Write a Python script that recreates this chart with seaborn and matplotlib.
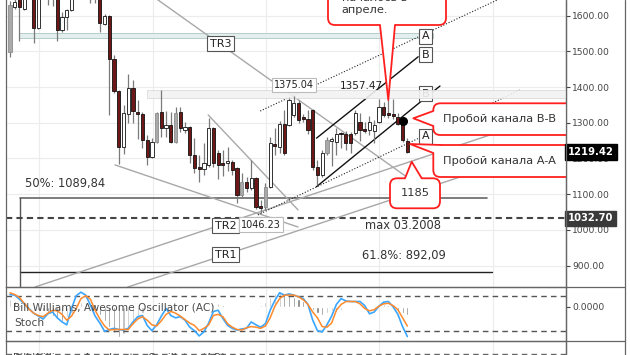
import numpy as np
import pandas as pd
import matplotlib
matplotlib.use("Agg")
import matplotlib.pyplot as plt
import matplotlib.transforms as mtransforms
from matplotlib.patches import FancyBboxPatch, Polygon, Rectangle
from matplotlib.lines import Line2D
import seaborn as sns

# ---------------- data ----------------
opens = [1498, 1625, 1660, 1620, 1680, 1680, 1565, 1700, 1690, 1670,
         1680, 1560, 1597, 1616, 1660, 1700, 1690, 1690, 1670, 1680,
         1577, 1599, 1478, 1390, 1233, 1325, 1397, 1331, 1326, 1252,
         1205, 1247, 1331, 1285, 1294, 1247, 1329, 1280, 1289, 1210,
         1177, 1170, 1182, 1285, 1215, 1187, 1187, 1191, 1173, 1098,
         1135, 1117, 1145, 1067, 1065, 1121, 1240, 1233, 1298, 1294,
         1322, 1355, 1315, 1312, 1335, 1177, 1154, 1215, 1250, 1247,
         1272, 1270, 1270, 1271, 1303, 1282, 1280, 1276, 1303, 1345,
         1324, 1325, 1317, 1312, 1250]
highs = [1642, 1650, 1670, 1670, 1720, 1690, 1685, 1720, 1710, 1700,
         1690, 1610, 1620, 1670, 1720, 1720, 1710, 1700, 1690, 1700,
         1606, 1603, 1490, 1392, 1350, 1437, 1420, 1363, 1330, 1266,
         1257, 1331, 1392, 1334, 1331, 1343, 1345, 1303, 1292, 1257,
         1210, 1243, 1313, 1288, 1224, 1224, 1231, 1196, 1177, 1160,
         1149, 1196, 1147, 1083, 1130, 1261, 1285, 1306, 1335, 1370,
         1375.04, 1363, 1325, 1335, 1340, 1196, 1224, 1261, 1261, 1285,
         1275, 1277, 1275, 1335, 1327, 1303, 1318, 1308, 1368, 1357.47,
         1368, 1368, 1327, 1320, 1257]
lows = [1484, 1620, 1530, 1615, 1660, 1524, 1562, 1660, 1630, 1628,
        1530, 1555, 1560, 1614, 1650, 1660, 1660, 1636, 1636, 1555,
        1574, 1322, 1383, 1185, 1213, 1299, 1299, 1255, 1229, 1182,
        1200, 1242, 1261, 1261, 1242, 1242, 1275, 1271, 1187, 1159,
        1135, 1154, 1177, 1177, 1143, 1152, 1166, 1154, 1075, 1093,
        1107, 1111, 1058, 1046.23, 1056, 1117, 1210, 1215, 1210, 1290,
        1316, 1300, 1302, 1270, 1168, 1125, 1148, 1210, 1180, 1210,
        1230, 1225, 1215, 1265, 1250, 1271, 1265, 1243, 1300, 1316,
        1313, 1312, 1293, 1246, 1215]
closes = [1630, 1639, 1623, 1660, 1700, 1565, 1680, 1680, 1670, 1690,
          1560, 1597, 1616, 1660, 1700, 1690, 1680, 1670, 1680, 1579,
          1599, 1478, 1390, 1233, 1327, 1397, 1332, 1326, 1252, 1205,
          1247, 1327, 1285, 1294, 1247, 1327, 1285, 1289, 1210, 1173,
          1170, 1187, 1285, 1187, 1182, 1182, 1194, 1168, 1098, 1135,
          1117, 1145, 1065, 1061, 1121, 1243, 1235, 1298, 1215, 1364,
          1355, 1308, 1310, 1280, 1177, 1154, 1215, 1252, 1255, 1270,
          1268, 1243, 1243, 1327, 1280, 1278, 1303, 1294, 1345, 1322,
          1323, 1318, 1298, 1252, 1219.42]
gray_candles = [0, 31, 35, 49, 54, 67]

stoch_k = [82, 81, 74, 66, 58, 50, 45, 40, 49, 52,
           42, 35, 30, 58, 80, 86, 81, 64, 45, 33,
           19, 22, 24, 22, 21, 24, 35, 44, 46, 29,
           20, 30, 45, 58, 46, 42, 44, 38, 26, 20,
           11, 18, 33, 53, 55, 41, 29, 24, 21, 23,
           24, 35, 30, 26, 32, 55, 72, 85, 81, 83,
           81, 78, 75, 65, 38, 20, 18, 30, 45, 65,
           75, 71, 70, 70, 70, 63, 49, 52, 62, 69,
           70, 61, 48, 27, 10]
stoch_d = [85, 82, 77, 67, 57, 50, 46, 44, 50, 55,
           54, 48, 38, 45, 58, 75, 80, 74, 55, 40,
           28, 21, 22, 22, 22, 22, 32, 40, 44, 38,
           30, 28, 37, 48, 53, 50, 45, 39, 33, 29,
           20, 24, 30, 46, 48, 44, 32, 26, 22, 21,
           25, 27, 26, 24, 28, 42, 62, 75, 81, 81,
           81, 78, 73, 65, 52, 42, 27, 26, 33, 55,
           65, 70, 70, 70, 66, 58, 54, 56, 62, 66,
           67, 63, 56, 42, 28]
ac_values = [8, 6, 2, 1, -1, -2, -3, -4, -6, -9,
             -12, -14, -10, -6, 3, 5, 4, 2, -3, -8,
             -14, -20, -26, -30, -27, -22, -18, -12, -6, -3,
             -2, -1, 1, 2, 1, 1, 1, 1, 1, -1,
             1, 1, 1, 3, 4, 2, 1, 1, 1, 1,
             1, 1, 1, 2, 5, 10, 14, 15, 13, 12,
             10, 8, 6, 4, -3, -6, -8, -6, -4, -5,
             -3, 1, 1, 1, 1, 1, 1, 1, 2, 3,
             2, -2, -4, -6, -8]

price_ticks = [900, 1000, 1100, 1200, 1300, 1400, 1500, 1600]
grid_x = [6.2, 30.3, 54.06, 78.0, 102.05]
fib_50, fib_618_line, fib_618_text = 1089.84, 881, "61.8%: 892,09"
last_price, ref_level = 1219.42, 1032.70

# trend lines (candle index, price)
tr3 = [(29.6, 1660), (83.9, 1148)]
line_a = [(22.2, 1182), (60.9, 1008)]
line_b = [(41.9, 1322), (60.9, 1056)]
tr2 = [(5.3, 840), (101.5, 1266)]
tr1 = [(24.9, 840), (95.1, 1148)]
chan_a_up = [(52.9, 1333), (103.0, 1644)]
chan_a_low = [(52.4, 1042), (107.8, 1392)]
chan_b_up = [(64.8, 1257), (86.3, 1485)]
chan_b_low = [(64.8, 1121), (90.9, 1403)]

# ---------------- figure ----------------
sns.set_theme(style="white")
plt.rcParams['font.family'] = ['DejaVu Sans']
W, H = 630, 355
fig = plt.figure(figsize=(W / 100, H / 100), dpi=100)
fig.patch.set_facecolor("white")
PX = mtransforms.Affine2D().scale(1 / W, -1 / H).translate(0, 1) + fig.transFigure

L, R = 6.3, 565.5
XL = ((L - 10) / 4.73, (R - 10) / 4.73)
ax = fig.add_axes([L / W, 1 - 287 / H, (R - L) / W, 287 / H])
osc = fig.add_axes([L / W, 1 - 341 / H, (R - L) / W, 54 / H])
bot = fig.add_axes([L / W, 1 - 400 / H, (R - L) / W, 59 / H])

GRID = "#ececec"
for a in (ax, osc, bot):
    a.set_xlim(*XL)
    a.set_facecolor("white")
    for gx in grid_x:
        a.axvline(gx, color=GRID, lw=0.8, zorder=0)
    a.set_xticks([])
    for s in ("left", "right", "top", "bottom"):
        a.spines[s].set_color("#666666")
        a.spines[s].set_linewidth(0.9)
    a.spines["top"].set_visible(False)

ax.set_ylim(840, 1644)
for t in price_ticks:
    ax.axhline(t, color=GRID, lw=0.8, zorder=0)
ax.yaxis.tick_right()
ax.set_yticks(price_ticks)
ax.set_yticklabels([f"{t:.2f}" for t in price_ticks])
ax.tick_params(axis="y", labelsize=6.6, colors="#444444", length=3, pad=2, width=0.8)

n = min(len(opens), len(highs), len(lows), len(closes))
idx = np.arange(n)
df = pd.DataFrame(dict(i=idx, o=opens[:n], h=highs[:n], l=lows[:n], c=closes[:n]))

# bands
ax.add_patch(Rectangle((2.0, 1537), 89.4 - 2.0, 14, fc="#e3efef", ec="#b8cccc", lw=0.7, zorder=1))
ax.add_patch(Rectangle((28.9, 1369), XL[1] - 28.9, 23, fc="#f2f2f2", ec="#dcdcdc", lw=0.7, zorder=2.6, alpha=0.9))

# fibo lines
ax.plot([2.1, 100.8], [fib_50, fib_50], color="#666666", lw=1.2, zorder=2)
ax.plot([2.1, 101.9], [fib_618_line, fib_618_line], color="#222222", lw=1.0, zorder=2)
ax.plot([2.1, 2.1], [fib_50, 840], color="#555555", lw=1.0, zorder=2)
ax.axhline(ref_level, color="#444444", lw=1.5, ls=(0, (3, 2)), zorder=2)

# trend lines
for ln in (tr3, line_a, line_b, tr2, tr1):
    ax.plot([p[0] for p in ln], [p[1] for p in ln], color="#a8a8a8", lw=1.0, zorder=2)
for ln in (chan_b_up, chan_b_low):
    ax.plot([p[0] for p in ln], [p[1] for p in ln], color="#111111", lw=1.0, zorder=2)
for ln in (chan_a_up, chan_a_low):
    ax.plot([p[0] for p in ln], [p[1] for p in ln], color="#222222", lw=0.8,
            ls=(0, (1, 1.6)), zorder=2)

# candles
ax.vlines(df.i, df.l, df.h, color="#7a7a7a", lw=0.9, zorder=3)
bottoms = np.minimum(df.o, df.c)
heights = np.maximum(np.abs(df.c - df.o), 4)
fills, edges = [], []
for i in range(n):
    if i in gray_candles:
        fills.append("#a9a9a9"); edges.append("#8c8c8c")
    elif df.c[i] > df.o[i]:
        fills.append("white"); edges.append("#111111")
    else:
        fills.append("#6e1717"); edges.append("#111111")
ax.bar(df.i, heights, bottom=bottoms, width=0.68, color=fills, edgecolor=edges,
       linewidth=0.6, zorder=4)
ax.plot([83], [1306], "o", color="black", ms=5.5, zorder=5)

# text labels
def boxed(x, y, s, fs=8, ec="#555555", z=5):
    ax.text(x, y, s, ha="center", va="center", fontsize=fs, color="#222222", zorder=z,
            bbox=dict(boxstyle="square,pad=0.22", fc="white", ec=ec, lw=0.8))

boxed(44.5, 1522, "TR3")
boxed(45.6, 1012, "TR2")
boxed(45.6, 930, "TR1")
boxed(53.1, 1015, "1046.23", fs=7, ec="#bbbbbb")
boxed(60.0, 1406, "1375.04", fs=7, ec="#bbbbbb")
boxed(87.8, 1542, "A")
boxed(87.8, 1491, "B")
boxed(87.8, 1382, "B", z=2.5)
boxed(87.8, 1262, "A")
ax.text(74.2, 1403, "1357.47", ha="center", va="center", fontsize=7.5, color="#222222", zorder=5)
ax.text(3.2, 1131, "50%: 1089,84", ha="left", va="center", fontsize=8.3, color="#333333", zorder=5)
ax.text(83.1, 1013, "max 03.2008", ha="center", va="center", fontsize=8.3, color="#333333", zorder=5)
ax.text(83.2, 927, fib_618_text, ha="center", va="center", fontsize=8.3, color="#333333", zorder=5)

blend = mtransforms.blended_transform_factory(ax.transAxes, ax.transData)
ax.text(1.004, last_price, f"{last_price:.2f}", transform=blend, ha="left", va="center",
        fontsize=7.2, fontweight="bold", color="white", zorder=10, clip_on=False,
        bbox=dict(boxstyle="square,pad=0.3", fc="black", ec="black"))
ax.text(1.004, ref_level, f"{ref_level:.2f}", transform=blend, ha="left", va="center",
        fontsize=7.2, fontweight="bold", color="white", zorder=10, clip_on=False,
        bbox=dict(boxstyle="square,pad=0.25", fc="#3a3a3a", ec="#3a3a3a"))

# callouts
RED = "#ff1f1f"
def callout(box, tip, b1, b2, extra):
    x0, y0, x1, y1 = box
    p = FancyBboxPatch((x0, y0), x1 - x0, y1 - y0, boxstyle="round,pad=0,rounding_size=7",
                       transform=PX, fc="white", ec=RED, lw=1.3, zorder=7)
    ax.add_patch(p)
    poly = Polygon([tip, b1] + extra + [b2], closed=True, transform=PX, fc="white",
                   ec="none", zorder=8)
    ax.add_patch(poly)
    ln = Line2D([b1[0], tip[0], b2[0]], [b1[1], tip[1], b2[1]], transform=PX,
                color=RED, lw=1.3, zorder=9)
    ax.add_line(ln)

callout((328, -30, 446, 25), (388.3, 100), (380, 25), (395, 25), [(380, 21), (395, 21)])
callout((433.3, 103.3, 590, 135), (413.3, 118.3), (433.3, 111), (433.3, 126), [(437, 111), (437, 126)])
callout((433.3, 145, 590, 177), (410, 144), (441, 145), (433.3, 153), [(441, 149), (437, 153)])
callout((390, 178.3, 440, 208.3), (411.7, 161.7), (405, 178.3), (421.7, 178.3), [(405, 182), (421.7, 182)])

def ptext(x, y, s, ha="left"):
    t = ax.text(x, y, s, transform=PX, ha=ha, va="center", fontsize=8.2, color="#333333", zorder=11)
    t.set_clip_path(ax.patch)

ptext(341.7, -2, "началось в")
ptext(341.7, 10, "апреле.")
ptext(443.3, 118.5, "Пробой канала B-B")
ptext(443.3, 161.5, "Пробой канала A-A")
ptext(415, 193.5, "1185", ha="center")

# ---------------- oscillator panel ----------------
osc.set_ylim(2.3, 94.9)
osc.set_yticks([])
for lvl in (20, 80):
    osc.axhline(lvl, color="#555555", lw=1.0, ls=(0, (4, 3)), zorder=1)
acx = osc.twinx()
acx.set_ylim(-34, 20)
acx.set_xlim(*XL)
ac = np.array(ac_values[:n])
ac_cols = ["#b8b8b8" if (i == 0 or ac[i] >= ac[i - 1]) else "#7a7a7a" for i in range(n)]
acx.bar(idx, ac, width=0.45, color=ac_cols, zorder=2)
acx.set_yticks([0])
acx.set_yticklabels(["0.0000"])
acx.tick_params(axis="y", labelsize=6.6, colors="#444444", length=3, pad=2, width=0.8)
for s in ("left", "right", "top", "bottom"):
    acx.spines[s].set_visible(False)
stoch = pd.DataFrame(dict(i=idx, k=stoch_k[:n], d=stoch_d[:n]))
osc.set_zorder(acx.get_zorder() + 1)
osc.patch.set_visible(False)
sns.lineplot(data=stoch, x="i", y="k", ax=osc, color="#3aa6ff", lw=1.2, zorder=3)
sns.lineplot(data=stoch, x="i", y="d", ax=osc, color="#ff8a2b", lw=1.1, zorder=4)
osc.set_xlabel(""); osc.set_ylabel("")
osc.set_xlim(*XL); osc.set_ylim(2.3, 94.9)
osc.set_xticks([])
osc.text(0.012, 0.62, "Bill Williams, Awesome Oscillator (AC)", transform=osc.transAxes,
         fontsize=7.6, color="#4a4a4a", ha="left", va="center", zorder=6)
osc.text(0.014, 0.33, "Stoch", transform=osc.transAxes, fontsize=7.6, color="#4a4a4a",
         ha="left", va="center", zorder=6)

# ---------------- lower panel (cut) ----------------
bot.set_ylim(59, 0)
bot.set_yticks([])
bot.axhline(13, color="#666666", lw=1.0, ls=(0, (4, 3)))
bot.text(0.012, 11, "Bill Williams, Accelerator Oscillator (AO)", transform=mtransforms.blended_transform_factory(bot.transAxes, bot.transData),
         fontsize=7.6, color="#4a4a4a", ha="left", va="top")

# frame lines
for yy in (287, 341):
    fig.add_artist(Line2D([L, 625], [yy, yy], transform=PX, color="#666666", lw=0.9))
fig.add_artist(Line2D([625, 625], [0, H], transform=PX, color="#666666", lw=0.9))
fig.add_artist(Line2D([R, R], [0, H], transform=PX, color="#666666", lw=0.9))

fig.savefig("out.png", dpi=100, facecolor="white")
